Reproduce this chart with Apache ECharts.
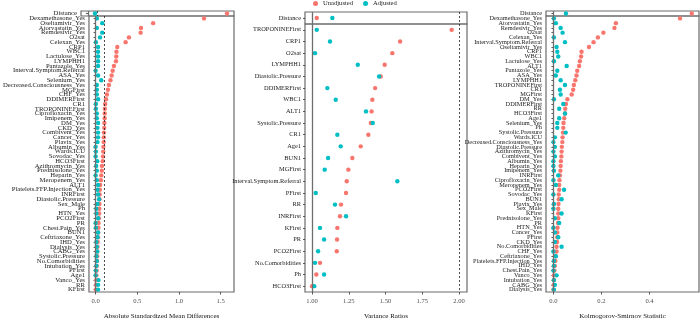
<!DOCTYPE html>
<html>
<head>
<meta charset="utf-8">
<script src="https://cdn.jsdelivr.net/npm/echarts@6/dist/echarts.min.js"></script>
<style>
  html, body { margin: 0; padding: 0; background: #fff; }
  #chart { width: 700px; height: 325px; }
</style>
</head>
<body>
<div id="chart"></div>
<script>
const smdVars = ['Distance', 'Dexamethasone_Yes', 'Oseltamivir_Yes', 'Atorvastatin_Yes', 'Remdesivir_Yes', 'O2sat', 'Celexan_Yes', 'CRP1', 'WBC1', 'Lactulose_Yes', 'LYMPHH1', 'Pantazole_Yes', 'Interval.Symptom.Referral', 'ASA_Yes', 'Selenium_Yes', 'Decreased.Consciousness_Yes', 'MGFirst', 'CHF_Yes', 'DDIMERFirst', 'CR1', 'TROPONINEFirst', 'Ciprofloxacin_Yes', 'Imipenem_Yes', 'DM_Yes', 'CKD_Yes', 'Combivent_Yes', 'Cancer_Yes', 'Plavix_Yes', 'Albumin_Yes', 'Wards.ICU', 'Sovodac_Yes', 'HCO3First', 'Azithromycin_Yes', 'Prednisolone_Yes', 'Heparin_Yes', 'Meropenem_Yes', 'ALT1', 'Platelets.FFP.Injection_Yes', 'INRFirst', 'Diastolic.Pressure', 'Sex_Male', 'Ph', 'HTN_Yes', 'PCO2First', 'PR', 'Chest.Pain_Yes', 'BUN1', 'Ceftriaxone_Yes', 'IHD_Yes', 'Dialysis_Yes', 'CABG_Yes', 'Systolic.Pressure', 'No.Comorbidities', 'Intubation_Yes', 'PFirst', 'Age1', 'Vanco_Yes', 'RR', 'KFirst']
const smdUnadj = [1.58, 1.30, 0.69, 0.545, 0.54, 0.40, 0.36, 0.26, 0.25, 0.248, 0.245, 0.22, 0.205, 0.193, 0.178, 0.16, 0.148, 0.136, 0.125, 0.115, 0.111, 0.11, 0.109, 0.106, 0.104, 0.10, 0.099, 0.097, 0.094, 0.092, 0.089, 0.086, 0.077, 0.075, 0.069, 0.064, 0.055, 0.051, 0.049, 0.047, 0.046, 0.045, 0.043, 0.04, 0.036, 0.034, 0.031, 0.029, 0.026, 0.024, 0.022, 0.02, 0.018, 0.016, 0.013, 0.01, 0.008, 0.005, 0.003]
const smdAdj = [0.08, 0.015, 0.08, 0.015, 0.08, 0.053, 0.004, 0.03, 0.03, 0.03, 0.03, 0.03, 0.001, 0.03, 0.068, 0.015, 0.015, 0.015, 0.03, 0.004, 0.004, 0.015, 0.015, 0.03, 0.023, 0.03, 0.03, 0.023, 0.001, 0.004, 0.001, 0.02, 0.008, 0.015, 0.001, 0.015, 0.03, 0.023, 0.03, 0.042, 0.023, 0.008, 0.01, 0.03, 0.001, 0.004, 0.03, 0.023, 0.01, 0.015, 0.02, 0.01, 0.015, 0.01, 0.003, 0.001, 0.035, 0.03, 0.03]

const vrVars = ['Distance', 'TROPONINEFirst', 'CRP1', 'O2sat', 'LYMPHH1', 'Diastolic.Pressure', 'DDIMERFirst', 'WBC1', 'ALT1', 'Systolic.Pressure', 'CR1', 'Age1', 'BUN1', 'MGFirst', 'Interval.Symptom.Referral', 'PFirst', 'RR', 'INRFirst', 'KFirst', 'PR', 'PCO2First', 'No.Comorbidities', 'Ph', 'HCO3First']
const vrUnadj = [1.032, 1.95, 1.599, 1.546, 1.494, 1.467, 1.429, 1.41, 1.405, 1.40, 1.383, 1.331, 1.274, 1.247, 1.236, 1.231, 1.197, 1.19, 1.172, 1.17, 1.168, 1.054, 1.029, 1.0]
const vrAdj = [1.138, 1.032, 1.122, 1.02, 1.311, 1.456, 1.104, 1.161, 1.367, 1.413, 1.172, 1.195, 1.109, 1.086, 1.58, 1.025, 1.156, 1.231, 1.054, 1.082, 1.041, 1.02, 1.082, 1.015]

const ksVars = ['Distance', 'Dexamethasone_Yes', 'Atorvastatin_Yes', 'Remdesivir_Yes', 'O2sat', 'Celexan_Yes', 'Interval.Symptom.Referral', 'Oseltamivir_Yes', 'CRP1', 'WBC1', 'Lactulose_Yes', 'ALT1', 'Pantazole_Yes', 'ASA_Yes', 'LYMPHH1', 'TROPONINEFirst', 'CR1', 'MGFirst', 'DM_Yes', 'DDIMERFirst', 'RR', 'HCO3First', 'Age1', 'Selenium_Yes', 'Ph', 'Systolic.Pressure', 'Wards.ICU', 'Decreased.Consciousness_Yes', 'Diastolic.Pressure', 'Azithromycin_Yes', 'Combivent_Yes', 'Albumin_Yes', 'Heparin_Yes', 'Imipenem_Yes', 'INRFirst', 'Ciprofloxacin_Yes', 'Meropenem_Yes', 'PCO2First', 'Sovodac_Yes', 'BUN1', 'Plavix_Yes', 'Sex_Male', 'KFirst', 'Prednisolone_Yes', 'PR', 'HTN_Yes', 'Cancer_Yes', 'PFirst', 'CKD_Yes', 'No.Comorbidities', 'CHF_Yes', 'Ceftriaxone_Yes', 'Platelets.FFP.Injection_Yes', 'IHD_Yes', 'Chest.Pain_Yes', 'Vanco_Yes', 'Intubation_Yes', 'CABG_Yes', 'Dialysis_Yes']
const ksUnadj = [0.576, 0.527, 0.26, 0.254, 0.208, 0.185, 0.167, 0.148, 0.117, 0.115, 0.11, 0.107, 0.099, 0.096, 0.091, 0.085, 0.082, 0.076, 0.058, 0.052, 0.049, 0.048, 0.045, 0.042, 0.041, 0.04, 0.038, 0.037, 0.035, 0.034, 0.033, 0.031, 0.03, 0.029, 0.027, 0.025, 0.024, 0.024, 0.022, 0.022, 0.021, 0.02, 0.02, 0.02, 0.019, 0.017, 0.016, 0.016, 0.015, 0.013, 0.013, 0.009, 0.008, 0.006, 0.004, 0.002, 0.002, 0.001, 0.0]
const ksAdj = [0.052, 0.002, 0.01, 0.03, 0.038, 0.002, 0.048, 0.013, 0.016, 0.02, 0.002, 0.055, 0.016, 0.01, 0.03, 0.048, 0.027, 0.03, 0.002, 0.041, 0.024, 0.048, 0.024, 0.016, 0.016, 0.051, 0.006, 0.0, 0.006, 0.0, 0.006, 0.0, 0.0, 0.002, 0.02, 0.0, 0.01, 0.044, 0.0, 0.034, 0.002, 0.0, 0.034, 0.006, 0.024, 0.0, 0.006, 0.02, 0.006, 0.034, 0.0, 0.01, 0.002, 0.002, 0.0, 0.013, 0.002, 0.006, 0.002]

const smdTicks = [0, 0.5, 1.0, 1.5]
const vrTicks = [1.0, 1.25, 1.5, 1.75, 2.0]
const ksTicks = [0, 0.2, 0.4]

const RED = '#F8766D'
const TEAL = '#00BFC4'
const FONT = 'Liberation Serif'

const panels = [
  { vars: smdVars, unadj: smdUnadj, adj: smdAdj, ticks: smdTicks, digits: 1,
    min: -0.079, max: 1.659, solid: 0, dashed: 0.1,
    left: 81, width: 153, top: 11, split: 16, bottom: 300, labelSize: 6.7,
    title: 'Absolute Standardized Mean Differences' },
  { vars: vrVars, unadj: vrUnadj, adj: vrAdj, ticks: vrTicks, digits: 2,
    min: 0.952, max: 2.054, solid: 1, dashed: 2,
    left: 305, width: 162, top: 12, split: 24, bottom: 299, labelSize: 6.4,
    title: 'Variance Ratios' },
  { vars: ksVars, unadj: ksUnadj, adj: ksAdj, ticks: ksTicks, digits: 1,
    min: -0.031, max: 0.606, solid: 0, dashed: null,
    left: 546, width: 153, top: 11, split: 16, bottom: 300, labelSize: 6.3,
    title: 'Kolmogorov-Smirnov Statistic' }
]

const grid = []
const xAxis = []
const yAxis = []
const series = []

function refLines(p) {
  let data = [{ xAxis: p.solid, lineStyle: { color: '#6e6e6e', width: 1.3, type: 'solid' } }]
  if (p.dashed !== null) {
    data.push({ xAxis: p.dashed, lineStyle: { color: '#222', width: 0.8, type: [2, 2] } })
  }
  return { silent: true, symbol: 'none', label: { show: false }, data: data }
}

function addPanel(p) {
  // top strip holds Distance only, the main box holds everything else
  const parts = [
    { cats: p.vars.slice(0, 1), unadj: p.unadj.slice(0, 1), adj: p.adj.slice(0, 1), top: p.top, height: p.split - p.top, main: false },
    { cats: p.vars.slice(1), unadj: p.unadj.slice(1), adj: p.adj.slice(1), top: p.split, height: p.bottom - p.split, main: true }
  ]

  for (let part of parts) {
    const idx = grid.length
    grid.push({
      left: p.left, top: part.top, width: p.width, height: part.height,
      show: true, borderColor: '#6b6b6b', borderWidth: 1.2, backgroundColor: 'transparent'
    })

    xAxis.push({
      gridIndex: idx, type: 'value', min: p.min, max: p.max,
      show: part.main,
      splitLine: { show: false },
      axisLine: { show: false },
      axisTick: { show: true, length: 2.5, customValues: p.ticks, lineStyle: { color: '#333', width: 0.8 } },
      axisLabel: {
        customValues: p.ticks, margin: 6, fontFamily: FONT, fontSize: 6.6, color: '#4d4d4d',
        formatter: v => v.toFixed(p.digits)
      },
      name: p.title, nameLocation: 'middle', nameGap: 21,
      nameTextStyle: { fontFamily: FONT, fontSize: 7, color: '#111' }
    })

    yAxis.push({
      gridIndex: idx, type: 'category', data: part.cats, inverse: true,
      axisLine: { show: false },
      splitLine: { show: false },
      axisTick: { show: true, alignWithLabel: true, length: 2, lineStyle: { color: '#333', width: 0.8 } },
      axisLabel: { interval: 0, margin: 4, fontFamily: FONT, fontSize: p.labelSize, color: '#222' }
    })

    series.push({
      type: 'scatter', xAxisIndex: idx, yAxisIndex: idx, data: [], z: 1,
      markLine: refLines(p)
    })
    series.push({
      name: 'Unadjusted', type: 'scatter', xAxisIndex: idx, yAxisIndex: idx, z: 3,
      symbolSize: 4.4, itemStyle: { color: RED, opacity: 1 },
      data: part.unadj.map((v, i) => [v, part.cats[i]])
    })
    series.push({
      name: 'Adjusted', type: 'scatter', xAxisIndex: idx, yAxisIndex: idx, z: 4,
      symbolSize: 4.4, itemStyle: { color: TEAL, opacity: 1 },
      data: part.adj.map((v, i) => [v, part.cats[i]])
    })
  }
}

panels.forEach(addPanel)

const chart = echarts.init(document.getElementById('chart'), null, { renderer: 'canvas' })
chart.setOption({
  animation: false,
  backgroundColor: '#fff',
  legend: {
    data: [{ name: 'Unadjusted', icon: 'circle' }, { name: 'Adjusted', icon: 'circle' }],
    left: 313, top: 0, padding: 0,
    itemWidth: 5, itemHeight: 5, itemGap: 10,
    textStyle: { fontFamily: FONT, fontSize: 6.6, color: '#222' }
  },
  grid: grid,
  xAxis: xAxis,
  yAxis: yAxis,
  series: series
})
</script>
</body>
</html>
